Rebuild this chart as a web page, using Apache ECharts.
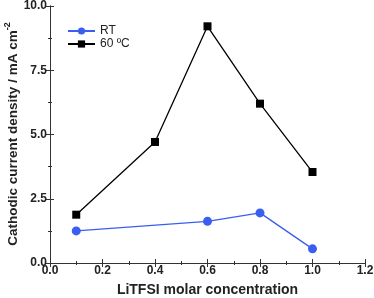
<!DOCTYPE html>
<html><head><meta charset="utf-8">
<script src="https://cdn.jsdelivr.net/npm/echarts@6/dist/echarts.min.js"></script>
<style>html,body{margin:0;padding:0;background:#fff}#c{width:374px;height:298px}</style>
</head><body><div id="c"></div>
<script>
const concRT = [0.1, 0.6, 0.8, 1.0];
const valRT = [1.25, 1.62, 1.95, 0.55];
const conc60 = [0.1, 0.4, 0.6, 0.8, 1.0];
const val60 = [1.88, 4.71, 9.21, 6.2, 3.54];
const seriesNames = ['RT', '60 ºC'];
const xName = 'LiTFSI molar concentration';
const yName = 'Cathodic current density / mA cm';
const ySup = '-2';

const font = 'Liberation Sans';
const axisCol = '#333';
const chart = echarts.init(document.getElementById('c'));
const common = {
  axisLine: {show: true, lineStyle: {color: axisCol, width: 1}},
  axisTick: {show: true, inside: true, length: 4, lineStyle: {color: axisCol}},
  minorTick: {show: true, splitNumber: 2, length: 2, lineStyle: {color: axisCol}},
  splitLine: {show: false}
};
chart.setOption({
  animation: false,
  textStyle: {fontFamily: font},
  grid: {left: 50, right: 9, top: 6, bottom: 35, outerBoundsMode: 'none', containLabel: false},
  legend: {
    left: 62, top: 20, orient: 'vertical', itemGap: 1, itemWidth: 27, itemHeight: 9,
    textStyle: {fontFamily: font, fontSize: 12, color: '#222'},
    data: seriesNames
  },
  graphic: [{
    type: 'text', x: 12, y: 134, rotation: Math.PI / 2,
    style: {
      text: '{a|' + yName + '}{s|' + ySup + '}', align: 'center', verticalAlign: 'middle',
      rich: {a: {fontFamily: font, fontWeight: 'bold', fontSize: 13.5, fill: '#222', lineHeight: 17, verticalAlign: 'bottom'},
             s: {fontFamily: font, fontWeight: 'bold', fontSize: 9, fill: '#222', verticalAlign: 'top', lineHeight: 17}}
    }
  }],
  xAxis: [
    Object.assign({type: 'value', min: 0, max: 1.2, interval: 0.2,
      name: xName, nameLocation: 'middle', nameGap: 20,
      nameTextStyle: {fontFamily: font, fontWeight: 'bold', fontSize: 14, color: '#222'},
      axisLabel: {fontFamily: font, fontWeight: 'bold', fontSize: 12, color: '#222', margin: 2,
        formatter: v => v.toFixed(1)}}, common),
    Object.assign({type: 'value', min: 0, max: 1.2, interval: 0.2, position: 'top',
      axisLabel: {show: false}}, common)
  ],
  yAxis: [
    Object.assign({type: 'value', min: 0, max: 10, interval: 2.5,
      axisLabel: {fontFamily: font, fontWeight: 'bold', fontSize: 12, color: '#222', margin: 3,
        formatter: v => v.toFixed(1)}}, common),
    Object.assign({type: 'value', min: 0, max: 10, interval: 2.5, position: 'right',
      axisLabel: {show: false}}, common)
  ],
  series: [
    {name: seriesNames[0], type: 'line', data: concRT.map((x, i) => [x, valRT[i]]),
      symbol: 'circle', symbolSize: 9, itemStyle: {color: '#3a5ef0'}, lineStyle: {color: '#3a5ef0', width: 1.3}},
    {name: seriesNames[1], type: 'line', data: conc60.map((x, i) => [x, val60[i]]),
      symbol: 'rect', symbolSize: 8, itemStyle: {color: '#000'}, lineStyle: {color: '#000', width: 1.3}}
  ]
});
</script></body></html>
